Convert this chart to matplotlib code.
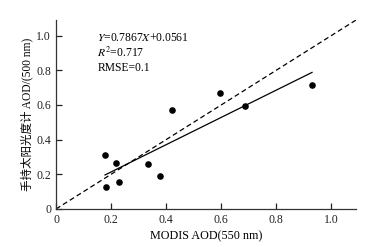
import matplotlib
matplotlib.use('Agg')
from matplotlib import pyplot as plt

plt.rcParams['font.family'] = ['Liberation Serif', 'Noto Sans CJK SC']
plt.rcParams['mathtext.fontset'] = 'stix'
plt.rcParams['axes.unicode_minus'] = False

# 数据
modis_aod = [0.178, 0.182, 0.218, 0.229, 0.335, 0.378, 0.422, 0.596, 0.687, 0.93]
hand_aod = [0.31, 0.126, 0.264, 0.155, 0.259, 0.19, 0.569, 0.667, 0.592, 0.713]
slope = 0.7867
intercept = 0.0561
ticks = [0, 0.2, 0.4, 0.6, 0.8, 1.0]
tick_labels = ['0', '0.2', '0.4', '0.6', '0.8', '1.0']

fig = plt.figure(figsize=(3.76, 2.47), dpi=100)
ax = fig.add_axes([0.149, 0.154, 0.798, 0.765])

# 1:1 线
ax.plot([0, 1.09], [0, 1.09], 'k--', lw=0.9, dashes=(4, 2.5))
# 拟合线
x0, x1 = min(modis_aod), max(modis_aod)
ax.plot([x0, x1], [slope * x0 + intercept, slope * x1 + intercept], 'k-', lw=0.9)
ax.scatter(modis_aod, hand_aod, s=14, c='k', zorder=3)

ax.set_xlim(0, 1.09)
ax.set_ylim(0, 1.09)
ax.set_xticks(ticks, tick_labels)
ax.set_yticks(ticks, tick_labels)
ax.tick_params(direction='in', length=4, width=0.9, labelsize=8.5, colors='#222222')
for s in ['top', 'right']:
    ax.spines[s].set_visible(False)
for s in ['left', 'bottom']:
    ax.spines[s].set_linewidth(0.9)
    ax.spines[s].set_color('#333333')

ax.set_xlabel('MODIS AOD(550 nm)', fontsize=8.7, labelpad=3)
ax.set_ylabel('手持太阳光度计 AOD/(500 nm)', fontsize=8.3, labelpad=2)

ax.text(0.15, 0.985, '$Y$=0.7867$X$+0.0561', fontsize=8.4, va='center')
ax.text(0.15, 0.9, '$R^2$=0.717', fontsize=8.4, va='center')
ax.text(0.15, 0.815, 'RMSE=0.1', fontsize=8.4, va='center')

plt.savefig('out.png', dpi=100)
